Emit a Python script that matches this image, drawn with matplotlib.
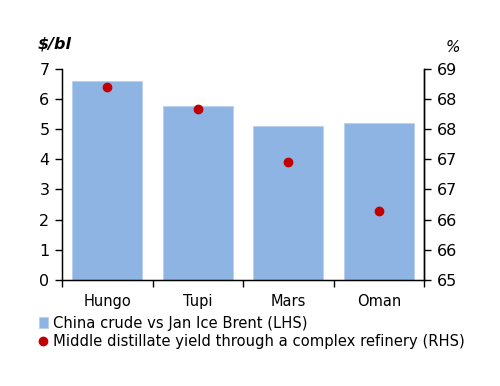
"""
China crude differential vs Jan ICE Brent and middle distillate yield
"""
import matplotlib.pyplot as plt
import numpy as np

crudes = ["Hungo", "Tupi", "Mars", "Oman"]
diff_vs_brent = [6.60, 5.75, 5.10, 5.20]  # $/bl, LHS
middle_distillate_yield = [68.66, 68.24, 67.23, 66.30]  # %, RHS

left_ticks = np.arange(0, 8)
right_lim = (65, 69)

bar_color = "#8DB4E2"
dot_color = "#C00000"

plt.rcParams["font.family"] = "DejaVu Sans"
plt.rcParams["font.size"] = 10.5

fig = plt.figure(figsize=(5.0, 3.86), dpi=100)
ax = fig.add_axes([0.124, 0.275, 0.724, 0.547])

x = np.arange(len(crudes))
bars = ax.bar(x, diff_vs_brent, width=0.775, color=bar_color,
              edgecolor="#B8D0EE", linewidth=0.6, zorder=2)

ax.set_xlim(-0.5, len(crudes) - 0.5)
ax.set_ylim(0, 7)
ax.set_yticks(left_ticks)
ax.set_xticks(x)
ax.set_xticklabels(crudes)
ax.set_xticks(np.arange(-0.5, len(crudes)), minor=True)
ax.tick_params(axis="x", which="major", length=0, pad=10)
ax.tick_params(axis="x", which="minor", length=5, width=1, direction="out")
ax.tick_params(axis="y", length=5, width=1, direction="out", pad=4,
               labelsize=11.5)
ax.spines["top"].set_visible(False)
for s in ["left", "right", "bottom"]:
    ax.spines[s].set_linewidth(1)

ax2 = ax.twinx()
ax2.set_ylim(*right_lim)
right_ticks = np.linspace(right_lim[0], right_lim[1], len(left_ticks))
ax2.set_yticks(right_ticks)
ax2.set_yticklabels([f"{v:.0f}" for v in right_ticks])
ax2.tick_params(axis="y", length=5, width=1, direction="out", pad=4,
                labelsize=11.5)
ax2.spines["top"].set_visible(False)
ax2.spines["right"].set_linewidth(1)
dots = ax2.plot(x, middle_distillate_yield, "o", color=dot_color,
                markersize=6, zorder=3)[0]

fig.text(0.076, 0.885, "$/bl", fontsize=11.5, fontweight="bold",
         fontstyle="italic", ha="left", va="center")
fig.text(0.905, 0.878, "%", fontsize=11, fontstyle="italic",
         ha="center", va="center")

fig.legend(
    [bars, dots],
    ["China crude vs Jan Ice Brent (LHS)",
     "Middle distillate yield through a complex refinery (RHS)"],
    loc="upper left", bbox_to_anchor=(0.078, 0.182), frameon=False,
    handlelength=0.6, handletextpad=0.35, labelspacing=0.25,
    borderaxespad=0, borderpad=0, fontsize=10.6,
)

fig.savefig("out.png", dpi=100)
